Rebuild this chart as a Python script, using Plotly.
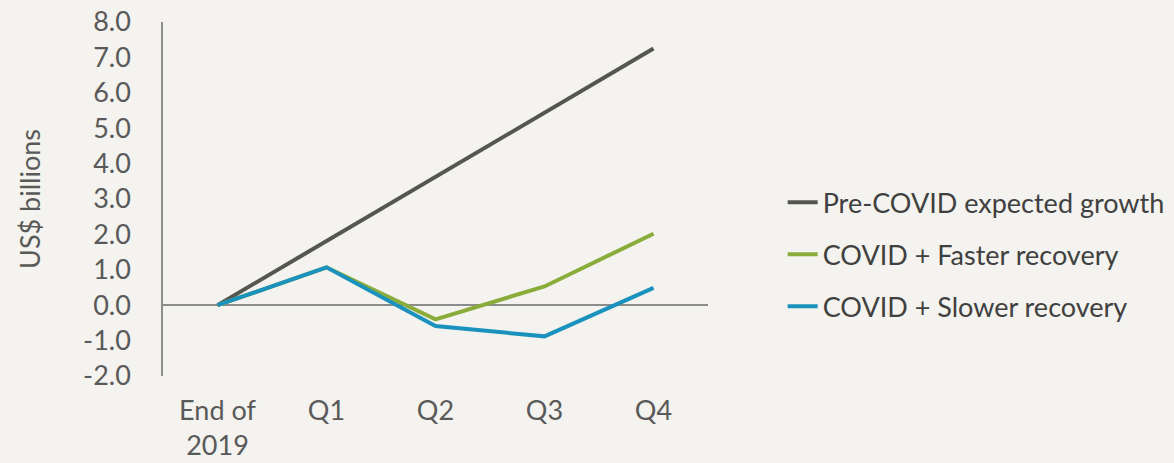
import plotly.graph_objects as go

categories = ["End of<br>2019", "Q1", "Q2", "Q3", "Q4"]
pre_covid = [0.0, 1.81, 3.63, 5.44, 7.25]
faster = [0.0, 1.07, -0.40, 0.53, 2.02]
slower = [0.0, 1.07, -0.59, -0.88, 0.49]
y_ticks = [-2, -1, 0, 1, 2, 3, 4, 5, 6, 7, 8]
y_tick_text = ["-2.0", "-1.0", "0.0", "1.0", "2.0", "3.0", "4.0", "5.0", "6.0", "7.0", "8.0"]

FONT = "Lato"
TXT = "#595959"
FS = 27

fig = go.Figure()
series = [
    ("Pre-COVID expected growth", pre_covid, "#55574f"),
    ("COVID + Faster recovery", faster, "#8aac3b"),
    ("COVID + Slower recovery", slower, "#1a92bd"),
]
for i, (name, vals, col) in enumerate(series):
    fig.add_trace(go.Scatter(
        x=categories, y=vals, name=name, mode="lines",
        line=dict(color=col, width=4),
        legendgroup=f"g{i}",
    ))

fig.update_layout(
    width=1174, height=463,
    margin=dict(l=163, r=466, t=22, b=87, autoexpand=False),
    paper_bgcolor="#f4f3ef", plot_bgcolor="#f4f3ef",
    font=dict(family=FONT, size=FS, color=TXT),
    showlegend=True,
    legend=dict(
        x=1.137, xanchor="left", y=0.343, yanchor="middle",
        font=dict(family=FONT, size=FS, color="#404040"),
        traceorder="grouped", tracegroupgap=14,
        bgcolor="rgba(0,0,0,0)",
    ),
)
fig.update_xaxes(
    type="category", range=[-0.5, 4.5], automargin=False,
    showgrid=False, showline=False, zeroline=False,
    ticks="", ticklabelstandoff=16,
    tickfont=dict(family=FONT, size=FS, color=TXT),
)
fig.update_yaxes(
    range=[-2, 8], tickvals=y_ticks, ticktext=y_tick_text, automargin=False,
    showgrid=False, showline=True, linecolor="#8c8c8c", linewidth=1.5,
    zeroline=True, zerolinecolor="#8c8c8c", zerolinewidth=1.5,
    ticks="", ticklabelstandoff=25,
    tickfont=dict(family=FONT, size=FS, color=TXT),
    title=dict(text="US$ billions", standoff=35,
               font=dict(family=FONT, size=FS, color=TXT)),
)

fig.write_html("out.html")
